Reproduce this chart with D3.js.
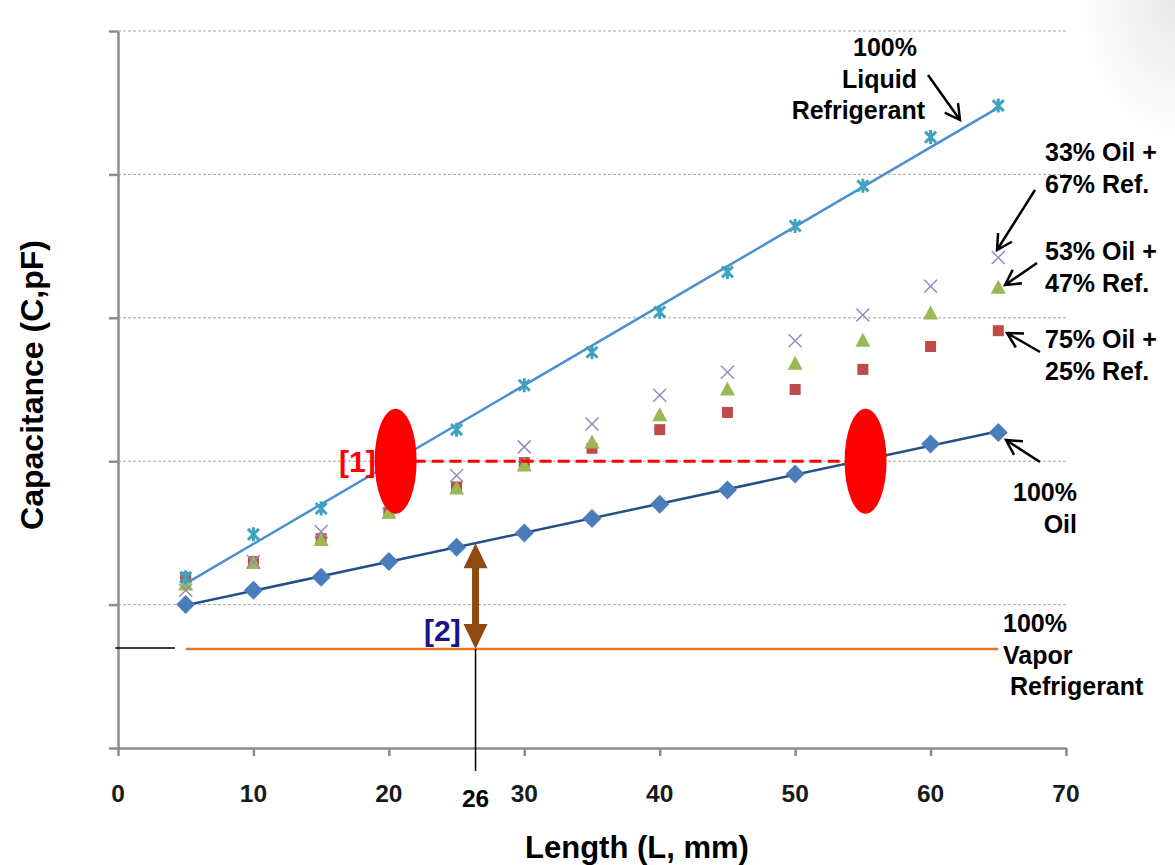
<!DOCTYPE html>
<html>
<head>
<meta charset="utf-8">
<script src="https://cdn.jsdelivr.net/npm/d3@7"></script>
<style>
  body { margin: 0; background: #fff; }
  text { font-family: "Liberation Sans", Arial, sans-serif; font-weight: bold; }
</style>
</head>
<body>
<div id="chart"></div>
<script>
// --- Données (unités arbitraires de capacité, 1 par grille)
const lengths = [5, 10, 15, 20, 25, 30, 35, 40, 45, 50, 55, 60, 65];
const oil100 = [1.00, 1.10, 1.19, 1.30, 1.40, 1.50, 1.60, 1.70, 1.80, 1.91, 2.01, 2.12, 2.20];
const liquid100 = [1.19, 1.49, 1.67, 1.96, 2.22, 2.53, 2.76, 3.04, 3.32, 3.64, 3.92, 4.26, 4.48];
const oil33 = [1.10, 1.30, 1.51, 1.71, 1.90, 2.10, 2.26, 2.46, 2.62, 2.84, 3.02, 3.22, 3.42];
const oil53 = [1.14, 1.29, 1.45, 1.64, 1.81, 1.97, 2.13, 2.32, 2.50, 2.68, 2.84, 3.03, 3.21];
const oil75 = [1.19, 1.30, 1.46, 1.64, 1.82, 1.99, 2.09, 2.22, 2.34, 2.50, 2.64, 2.80, 2.91];
const vaporLevel = 0.69;
const xTicks = [0, 10, 20, 30, 40, 50, 60, 70];
const gridValues = [1, 2, 3, 4, 5];

// repères [1] et [2]
const level1 = 2.0;
const ellipseLengths = [20.5, 55.2];
const markLength = 26.4;
const markLabel = "26";

const W = 1175, H = 865;
const svg = d3.select("#chart").append("svg").attr("width", W).attr("height", H);

const x = d3.scaleLinear().domain([0, 70]).range([118, 1066]);
const y = d3.scaleLinear().domain([0, 5]).range([748, 31]);

// --- ombre grise en haut à droite
const defs = svg.append("defs");
const grad = defs.append("radialGradient").attr("id", "shade")
  .attr("cx", "100%").attr("cy", "0%").attr("r", "100%");
grad.append("stop").attr("offset", "0%").attr("stop-color", "#e8e8e8");
grad.append("stop").attr("offset", "100%").attr("stop-color", "#ffffff");
svg.append("rect").attr("x", 1080).attr("y", 0).attr("width", 95).attr("height", 140)
  .attr("fill", "url(#shade)");

// --- grille
svg.append("g").selectAll("line").data(gridValues).join("line")
  .attr("x1", x(0)).attr("x2", x(70))
  .attr("y1", d => y(d)).attr("y2", d => y(d))
  .attr("stroke", "#a6a6a6").attr("stroke-width", 1).attr("stroke-dasharray", "3,2");

// --- axes
const axisColor = "#8c8c8c";
const gx = svg.append("g").attr("transform", `translate(0,${y(0)})`)
  .call(d3.axisBottom(x).tickValues(xTicks).tickSize(8).tickSizeOuter(0).tickFormat(""));
const gy = svg.append("g").attr("transform", `translate(${x(0)},0)`)
  .call(d3.axisLeft(y).tickValues([0, ...gridValues]).tickSize(9).tickSizeOuter(0).tickFormat(""));
[gx, gy].forEach(g => {
  g.select(".domain").attr("stroke", axisColor).attr("stroke-width", 2.5);
  g.selectAll(".tick line").attr("stroke", axisColor).attr("stroke-width", 2.5);
});

svg.append("g").selectAll("text").data(xTicks).join("text")
  .attr("x", d => x(d)).attr("y", 802)
  .attr("text-anchor", "middle").attr("font-size", 24.5).attr("fill", "#1a1a1a")
  .text(d => d);

// --- titres
svg.append("text").attr("x", 637).attr("y", 858).attr("text-anchor", "middle")
  .attr("font-size", 31).attr("fill", "#000").text("Length (L, mm)");
svg.append("text").attr("transform", "translate(43,385) rotate(-90)")
  .attr("text-anchor", "middle").attr("font-size", 32).attr("fill", "#000")
  .text("Capacitance (C,pF)");

// --- droites de tendance (moindres carrés)
function fit(ys) {
  const mx = d3.mean(lengths), my = d3.mean(ys);
  const sxy = d3.sum(lengths, (v, i) => (v - mx) * (ys[i] - my));
  const sxx = d3.sum(lengths, v => (v - mx) ** 2);
  const b = sxy / sxx;
  return v => my + b * (v - mx);
}
const oilFit = fit(oil100);
const liqFit = fit(liquid100);
const x0 = lengths[0], x1 = lengths[lengths.length - 1];

svg.append("line")
  .attr("x1", x(x0)).attr("y1", y(liqFit(x0))).attr("x2", x(x1)).attr("y2", y(liqFit(x1)))
  .attr("stroke", "#4a8fd4").attr("stroke-width", 2.5);
svg.append("line")
  .attr("x1", x(x0)).attr("y1", y(oilFit(x0))).attr("x2", x(x1)).attr("y2", y(oilFit(x1)))
  .attr("stroke", "#24508a").attr("stroke-width", 2.5);

// vapeur
svg.append("line")
  .attr("x1", x(x0)).attr("x2", x(x1)).attr("y1", y(vaporLevel)).attr("y2", y(vaporLevel))
  .attr("stroke", "#e8761e").attr("stroke-width", 2.5);
svg.append("line")
  .attr("x1", x(-0.2)).attr("x2", x(4.2)).attr("y1", y(vaporLevel) - 1).attr("y2", y(vaporLevel) - 1)
  .attr("stroke", "#000").attr("stroke-width", 1.5);

// --- marqueurs
const pts = ys => lengths.map((v, i) => [v, ys[i]]);

svg.append("g").selectAll("path").data(pts(oil75)).join("path")
  .attr("transform", d => `translate(${x(d[0])},${y(d[1])})`)
  .attr("d", "M-5.5,-5.5H5.5V5.5H-5.5Z").attr("fill", "#be4b48");

svg.append("g").selectAll("path").data(pts(oil53)).join("path")
  .attr("transform", d => `translate(${x(d[0])},${y(d[1])})`)
  .attr("d", "M0,-8L7.5,6H-7.5Z").attr("fill", "#98b954");

svg.append("g").selectAll("path").data(pts(oil33)).join("path")
  .attr("transform", d => `translate(${x(d[0])},${y(d[1])})`)
  .attr("d", "M-6.5,-6.5L6.5,6.5M-6.5,6.5L6.5,-6.5")
  .attr("stroke", "#9d87be").attr("stroke-width", 1.5).attr("fill", "none");

svg.append("g").selectAll("path").data(pts(liquid100)).join("path")
  .attr("transform", d => `translate(${x(d[0])},${y(d[1])})`)
  .attr("d", "M-5.5,-5.5L5.5,5.5M-5.5,5.5L5.5,-5.5M0,-7V7")
  .attr("stroke", "#3fa3bf").attr("stroke-width", 3).attr("fill", "none");

svg.append("g").selectAll("path").data(pts(oil100)).join("path")
  .attr("transform", d => `translate(${x(d[0])},${y(d[1])})`)
  .attr("d", "M0,-9.5L9.5,0L0,9.5L-9.5,0Z").attr("fill", "#4a7ebb");

// --- repère [1]
svg.append("text").attr("x", 339).attr("y", 472).attr("font-size", 30).attr("fill", "#ff0000").text("[1]");
svg.append("line")
  .attr("x1", x(ellipseLengths[0])).attr("x2", x(ellipseLengths[1]))
  .attr("y1", y(level1)).attr("y2", y(level1))
  .attr("stroke", "#ff0000").attr("stroke-width", 3).attr("stroke-dasharray", "12,6");
svg.append("g").selectAll("ellipse").data(ellipseLengths).join("ellipse")
  .attr("cx", d => x(d)).attr("cy", y(level1)).attr("rx", 21).attr("ry", 52.5)
  .attr("fill", "#ff0000");

// --- repère [2]
const mx = x(markLength);
const yTop = y(oilFit(markLength)), yBot = y(vaporLevel);
svg.append("line").attr("x1", mx).attr("x2", mx).attr("y1", yBot).attr("y2", 771)
  .attr("stroke", "#000").attr("stroke-width", 1.5);
const brown = "#904a0e";
svg.append("line").attr("x1", mx).attr("x2", mx).attr("y1", yTop + 20).attr("y2", yBot - 20)
  .attr("stroke", brown).attr("stroke-width", 7);
svg.append("path").attr("d", `M${mx},${yTop}L${mx + 12},${yTop + 25}L${mx - 12},${yTop + 25}Z`).attr("fill", brown);
svg.append("path").attr("d", `M${mx},${yBot}L${mx + 12},${yBot - 25}L${mx - 12},${yBot - 25}Z`).attr("fill", brown);
svg.append("text").attr("x", 424).attr("y", 641).attr("font-size", 30).attr("fill", "#14148c").text("[2]");
svg.append("text").attr("x", mx).attr("y", 807).attr("text-anchor", "middle")
  .attr("font-size", 24.5).attr("fill", "#000").text(markLabel);

// --- annotations
const labels = [
  { lines: ["100%", "Liquid", "Refrigerant"], xs: [917, 917, 925], y0: 56, anchor: "end" },
  { lines: ["33% Oil +", "67% Ref."], xs: [1045, 1045], y0: 161, anchor: "start" },
  { lines: ["53% Oil +", "47% Ref."], xs: [1045, 1045], y0: 260, anchor: "start" },
  { lines: ["75% Oil +", "25% Ref."], xs: [1045, 1045], y0: 348, anchor: "start" },
  { lines: ["100%", "Oil"], xs: [1077, 1077], y0: 501, anchor: "end" },
  { lines: ["100%", "Vapor", "Refrigerant"], xs: [1003, 1003, 1010], y0: 632, anchor: "start" }
];
labels.forEach(l => {
  l.lines.forEach((t, i) => {
    svg.append("text").attr("x", l.xs[i]).attr("y", l.y0 + i * 31.5)
      .attr("text-anchor", l.anchor).attr("font-size", 25).attr("fill", "#000").text(t);
  });
});

const arrows = [
  [928, 75, 960, 120],
  [1035, 190, 997, 250],
  [1037, 263, 1005, 285],
  [1040, 352, 1007, 333],
  [1040, 462, 1006, 440]
];
arrows.forEach(([ax, ay, bx, by]) => {
  const a = Math.atan2(by - ay, bx - ax);
  const h = 17, s = 0.5;
  svg.append("path")
    .attr("d", `M${ax},${ay}L${bx},${by}` +
      `M${bx - h * Math.cos(a - s)},${by - h * Math.sin(a - s)}L${bx},${by}` +
      `L${bx - h * Math.cos(a + s)},${by - h * Math.sin(a + s)}`)
    .attr("stroke", "#000").attr("stroke-width", 2.5).attr("fill", "none");
});
</script>
</body>
</html>
